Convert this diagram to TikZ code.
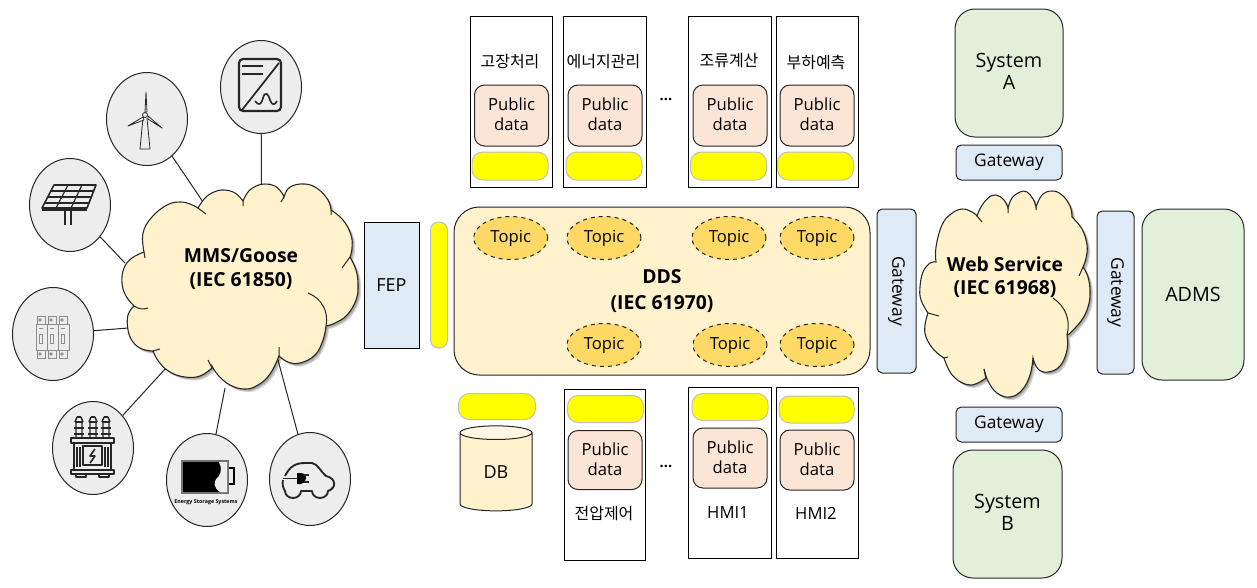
\documentclass[tikz,border=0pt]{standalone}
\usepackage{fontspec}
\setmainfont{Open Sans}
\newfontfamily\korean{Noto Sans CJK KR}
\usetikzlibrary{shapes.geometric}

\definecolor{cloudfill}{HTML}{FFF2CC}
\definecolor{dbtopfill}{HTML}{FFF7E3}
\definecolor{topicfill}{HTML}{FFD966}
\definecolor{pubfill}{HTML}{FBE5D6}
\definecolor{gatefill}{HTML}{DEEBF7}
\definecolor{sysfill}{HTML}{E2F0D9}
\definecolor{devfill}{HTML}{EDEDED}
\definecolor{edgecol}{HTML}{262626}
\definecolor{tabyellow}{RGB}{255,255,0}

\tikzset{
    boxsize/.style 2 args={minimum width=#1*0.75pt, minimum height=#2*0.75pt, inner sep=0pt},
    device/.style={ellipse, draw=edgecol, fill=devfill, line width=0.75pt, inner sep=0pt, minimum width=60.75pt, minimum height=69.75pt},
    appbox/.style={draw=black, fill=white, line width=0.6pt},
    pubbox/.style={draw=edgecol, fill=pubfill, line width=0.75pt, rounded corners=7.5pt, align=center, font=\fontsize{12.5}{15}\selectfont},
    yelbox/.style={draw=black!25, fill=tabyellow, line width=0.75pt, rounded corners=8pt},
    topic/.style={ellipse, draw=edgecol, dashed, fill=topicfill, line width=0.75pt, font=\fontsize{12.5}{15}\selectfont},
    gate/.style={draw=edgecol, fill=gatefill, line width=0.75pt, rounded corners=4pt, font=\fontsize{13}{15}\selectfont},
    sysbox/.style={draw=edgecol, fill=sysfill, line width=0.75pt, rounded corners=15pt, align=center, font=\fontsize{14.8}{16.5}\selectfont},
    label/.style={font=\korean\fontsize{12}{14}\selectfont},
    cloudlabel/.style={align=center, font=\bfseries\fontsize{14.5}{17.5}\selectfont},
    link/.style={draw=edgecol, line width=0.75pt},
    icon/.style={draw=black!85, line width=1pt, line join=round},
    lobe/.style={smooth, tension=0.7},
}

\newcommand{\dropstrut}[1]{\rule[-#1]{0pt}{#1}}
\newcommand{\mmscloud}{plot[lobe] coordinates {(144,252) (143,233) (152,217) (167,205) (180,202) (190,204) (198,208)}
    -- plot[lobe] coordinates {(198,208) (205,198) (214,192) (224,190) (235,193) (243,201)}
    -- plot[lobe] coordinates {(243,201) (248,192) (256,186) (265,184) (275,186) (282,193) (284,197)}
    -- plot[lobe] coordinates {(284,197) (290,187) (305,184) (318,189) (328,200) (331,210)}
    -- plot[lobe] coordinates {(331,210) (343,220) (351,235) (352,248) (350,257)}
    -- plot[lobe] coordinates {(350,257) (356,270) (358,285) (356,300) (347,315) (335,323) (326,326)}
    -- plot[lobe] coordinates {(326,326) (323,340) (315,355) (300,363) (288,362) (279,356)}
    -- plot[lobe] coordinates {(279,356) (270,374) (258,385) (245,389) (230,385) (218,375) (212,366)}
    -- plot[lobe] coordinates {(212,368) (200,376) (185,377) (170,372) (159,362) (153,351)}
    -- plot[lobe] coordinates {(153,351) (142,349) (133,342) (128,330) (128,315) (134,306)}
    -- plot[lobe] coordinates {(134,306) (126,296) (122,283) (124,268) (132,258) (144,252)} -- cycle}
\newcommand{\webcloud}{plot[lobe] coordinates {(936,262) (936,247) (942,225) (951,214) (962,209) (972,212) (977,216)}
    -- plot[lobe] coordinates {(977,216) (981,207) (988,198) (996,195) (1004,200) (1008,208)}
    -- plot[lobe] coordinates {(1008,208) (1012,198) (1020,192) (1027,192) (1033,199) (1036,207)}
    -- plot[lobe] coordinates {(1036,207) (1042,195) (1052,191) (1062,195) (1070,206) (1072,217)}
    -- plot[lobe] coordinates {(1072,217) (1082,229) (1087,245) (1086,258) (1083,267)}
    -- plot[lobe] coordinates {(1083,267) (1088,277) (1090,292) (1088,307) (1081,321) (1069,334)}
    -- plot[lobe] coordinates {(1067,335) (1067,350) (1060,366) (1048,372) (1038,369) (1033,358)}
    -- plot[lobe] coordinates {(1033,358) (1030,375) (1022,390) (1010,397) (997,393) (988,381) (984,369)}
    -- plot[lobe] coordinates {(986,378) (970,385) (953,376) (944,358)}
    -- plot[lobe] coordinates {(944,358) (934,350) (926,337) (925,325) (928,313)}
    -- plot[lobe] coordinates {(928,313) (921,300) (920,287) (923,272) (930,263) (936,262)} -- cycle}

\begin{document}
\begin{tikzpicture}[x=0.75pt, y=-0.75pt]
    \useasboundingbox (0,0) rectangle (1257,587);

    % devices around the left cloud
    \node[device] (inverter) at (261,87) {};
    \node[device] (wind) at (147,119) {};
    \node[device] (solar) at (70,205) {};
    \node[device] (breaker) at (53,334) {};
    \node[device] (transformer) at (93,448) {};
    \node[device] (ess) at (207,480) {};
    \node[device] (ev) at (310,479) {};

    \coordinate (inverterend) at (261.5,186);
    \coordinate (windend) at (203,202);
    \coordinate (solarend) at (125,263);
    \coordinate (breakerend) at (128,328);
    \coordinate (transformerend) at (166,368);
    \coordinate (essend) at (225,388);
    \coordinate (evend) at (278,360);

    \draw[link] (inverter) -- (inverterend);
    \draw[link] (wind) -- (windend);
    \draw[link] (solar) -- (solarend);
    \draw[link] (breaker) -- (breakerend);
    \draw[link] (transformer) -- (transformerend);
    \draw[link] (ess) -- (essend);
    \draw[link] (ev) -- (evend);

    % inverter icon
    \draw[icon, line width=1.6pt, rounded corners=3pt] (239,59) rectangle (281,111);
    \draw[icon, line width=1.3pt] (279,63) -- (242,110);
    \draw[icon, line width=1.8pt] (242,66) -- (263,66) (242,74) -- (263,74);
    \draw[icon, line width=1.2pt] (255,101) .. controls (259,106) and (261,105) .. (263,98)
        .. controls (265,91) and (268,93) .. (270,100) .. controls (272,106) and (275,105) .. (277,101);

    % wind turbine icon
    \draw[icon, line width=0.6pt] (143,118) -- (140,149) -- (150,149) -- (147,118);
    \draw[icon, line width=0.6pt, fill=white] (145,112) -- (146,92) -- (147,112) -- cycle;
    \draw[icon, line width=0.6pt, fill=white] (143,117) -- (128,126) -- (144,120) -- cycle;
    \draw[icon, line width=0.6pt, fill=white] (148,116) -- (162,128) -- (148,119) -- cycle;
    \draw[icon, line width=0.6pt, fill=devfill] (145,115) circle (2.5);

    % solar panel icon
    \draw[icon, line width=1.2pt, fill=devfill] (54,185) -- (96,185) -- (87,208) -- (42,208) -- cycle;
    \draw[icon, line width=0.9pt] (50.5,191) -- (94,191) (46.5,197) -- (92,197) (44,203) -- (89,203);
    \draw[icon, line width=0.9pt] (68,185) -- (56,208) (82,185) -- (71,208);
    \draw[icon, line width=1.8pt] (42,210) -- (87,210);
    \draw[icon, line width=0.9pt] (65,211) -- (65,225) (71,211) -- (71,225);

    % breaker icon
    \foreach \x in {36,47,58} {
        \draw[black!45, line width=0.6pt] (\x,324) rectangle ++(11,26);
        \draw[black!45, line width=0.6pt] (\x+1,316) rectangle ++(8,8);
        \draw[black!45, line width=0.6pt] (\x+1,350) rectangle ++(8,8);
        \draw[black!45, line width=0.6pt] (\x+4,320) circle (1.2) (\x+4,354) circle (1.2);
        \draw[black!45, line width=0.6pt] (\x+3,334) rectangle ++(3,9);
        \draw[black!45, line width=0.6pt] (\x+3,328) -- ++(4,0);
    }

    % transformer icon
    \foreach \x in {79,93,106} {
        \draw[icon, line width=1.1pt] (\x-2,417) -- (\x+2,417) (\x-4,422) -- (\x+4,422) (\x-5,428) -- (\x+5,428) (\x-5,434) -- (\x+5,434);
        \draw[icon, line width=1.1pt] (\x-2,417) -- (\x-4,422) (\x+2,417) -- (\x+4,422) (\x-3,422) -- (\x-3,437) (\x+3,422) -- (\x+3,437);
    }
    \draw[icon, line width=1.2pt] (71,438) rectangle (114,443);
    \draw[icon, line width=1.2pt] (74,443) rectangle (111,470);
    \draw[icon, line width=1.2pt] (71,470) rectangle (114,474);
    \draw[icon, line width=1.2pt] (83,446) rectangle (102,465);
    \draw[icon, line width=0.9pt] (77,447) -- (77,467) (80,447) -- (80,467) (105,447) -- (105,467) (108,447) -- (108,467);
    \draw[icon, line width=1.2pt] (95,449) -- (90,456) -- (95,456) -- (90,463);
    \draw[icon, line width=1.2pt] (76,474) -- (76,477) -- (86,477) -- (86,474) (99,474) -- (99,477) -- (109,477) -- (109,474);

    % storage icon
    \draw[draw=black!55, fill=black, line width=1pt] (182,461) rectangle (228,493);
    \fill[devfill] (219,462) .. controls (222,468) and (221,472) .. (219,476)
        .. controls (212,482) and (214,488) .. (220,492) -- (227,492) -- (227,462) -- cycle;
    \draw[black, line width=0.8pt] (229,468) -- (234,468) -- (234,484) -- (229,484);
    \node[inner sep=0pt, font=\bfseries\fontsize{4}{5}\selectfont] (esstext) at (206,502) {Energy Storage Systems};

    % car icon
    \draw[icon, line width=1.4pt] (285,476) .. controls (290,466) and (296,463) .. (305,463) -- (312,463)
        .. controls (318,464) and (321,472) .. (326,476) .. controls (336,478) and (337,488) .. (328,491)
        arc (0:180:8 and 7) -- (301,491) arc (0:180:8 and 7) .. controls (283,488) and (282,484) .. (283,480);
    \fill[black] (297,473) -- (301,473) .. controls (305,473) and (306,477) .. (306,478) .. controls (306,481) and (304,484) .. (301,484) -- (297,484) -- cycle;
    \draw[icon, line width=1.4pt] (283,478.5) -- (297,478.5) (304,475) -- (309,475) (304,482) -- (309,482);

    % left cloud
    \foreach \s in {1,2,3} {
        \fill[black, opacity=0.16, shift={(\s,\s)}] \mmscloud;
    }
    \draw[fill=cloudfill, draw=edgecol, line width=0.8pt] \mmscloud;
    \draw[link] (198,208) -- (206,214) (243,201) -- (243,206) (284,197) -- (281,202) (331,210) -- (331,215);
    \draw[link] (350,257) -- (342,268) (279,347) -- (279,356) (208,360) -- (212,368) (153,351) -- (160,349);
    \draw[link] (308,293) to[bend left=40] (326,326);
    \draw[link] (134,306) to[bend right=25] (148,308);
    \draw[link] (144,252) -- (145,258);
    \node[cloudlabel] (mmslabel) at (241,269) {MMS/Goose\\(IEC 61850)};

    % front end
    \node[draw=black, fill=gatefill, line width=0.6pt, boxsize={55}{126}, font=\fontsize{13.5}{15}\selectfont] (fep) at (391.5,285) {FEP};
    \node[yelbox, rounded corners=6pt, boxsize={17}{126}] (feptab) at (439,285) {};

    % DDS bus
    \node[draw=edgecol, fill=cloudfill, line width=0.75pt, rounded corners=19pt, boxsize={416}{168}, align=center, font=\bfseries\fontsize{14.5}{18}\selectfont] (dds) at (662,291) {DDS\\[2pt](IEC 61970)};
    \foreach \name/\x/\y in {a/510.7/238, b/604/238, c/729/238, d/817/238, e/604/345, f/730/345, g/817/345} {
        \node[topic, boxsize={74}{43}] (topic\name) at (\x,\y) {Topic};
    }

    % application boxes on top
    \node[appbox, boxsize={82}{171}] (faultbox) at (511,101.5) {};
    \node[appbox, boxsize={83}{171}] (energybox) at (604.5,101.5) {};
    \node[appbox, boxsize={83}{171}] (flowbox) at (729.5,101.5) {};
    \node[appbox, boxsize={82}{171}] (loadbox) at (817,101.5) {};
    \node[label] (faultlabel) at (510,62) {고장처리};
    \node[label] (energylabel) at (603.5,62) {에너지관리};
    \node[label] (flowlabel) at (729,61) {조류계산};
    \node[label] (loadlabel) at (816,62) {부하예측};
    \foreach \name/\x in {a/511.5, b/605, c/730, d/817} {
        \node[pubbox, boxsize={74}{61}] (pubtop\name) at (\x,115.5) {Public\\data\dropstrut{1.5pt}};
    }
    \foreach \name/\x in {a/510, b/604, c/728.5, d/815.5} {
        \node[yelbox, boxsize={76}{28}] (yeltop\name) at (\x,166) {};
    }
    \node[font=\bfseries\fontsize{11}{13}\selectfont] (dotstop) at (666,99) {...};

    % application boxes below
    \node[appbox, boxsize={81}{171}] (voltbox) at (604.5,474.5) {};
    \node[appbox, boxsize={83}{171}] (hmionebox) at (729.5,472.5) {};
    \node[appbox, boxsize={82}{171}] (hmitwobox) at (817,472.5) {};
    \node[yelbox, boxsize={77}{26}] (yeldb) at (497,406.5) {};
    \node[yelbox, boxsize={76}{27}] (yelvolt) at (605.5,409) {};
    \node[yelbox, boxsize={76}{27}] (yelhmione) at (730,407) {};
    \node[yelbox, boxsize={75}{27}] (yelhmitwo) at (816.5,409.5) {};
    \node[pubbox, boxsize={74}{59}] (pubvolt) at (605,460) {Public\\data\dropstrut{1.5pt}};
    \node[pubbox, boxsize={74}{60}] (pubhmione) at (730,458) {Public\\data\dropstrut{1.5pt}};
    \node[pubbox, boxsize={74}{60}] (pubhmitwo) at (817,460) {Public\\data\dropstrut{1.5pt}};
    \node[cylinder, shape border rotate=90, shape aspect=0.55, cylinder uses custom fill, cylinder body fill=cloudfill, cylinder end fill=dbtopfill, draw=edgecol, line width=0.75pt, boxsize={72}{85}, font=\fontsize{13.5}{15}\selectfont] (db) at (496,472) {\raisebox{-2.2pt}{DB}};
    \node[label] (voltlabel) at (604,514) {전압제어};
    \node[font=\fontsize{12.5}{15}\selectfont] (hmione) at (728,513) {HMI1};
    \node[font=\fontsize{12.5}{15}\selectfont] (hmitwo) at (816,513) {HMI2};
    \node[font=\bfseries\fontsize{11}{13}\selectfont] (dotsbottom) at (666,466) {...};

    % right side
    \node[gate, rotate=-90, boxsize={164}{39}] (gateleft) at (896.5,291) {Gateway};
    \node[gate, rotate=-90, boxsize={163}{37}] (gateright) at (1115.5,292.5) {Gateway};
    \node[gate, boxsize={106}{35}] (gatetop) at (1009,162.5) {Gateway};
    \node[gate, boxsize={106}{35}] (gatebottom) at (1009,424.5) {Gateway};
    \node[sysbox, boxsize={108}{128}] (systema) at (1009,73) {System\\A\dropstrut{3pt}};
    \node[sysbox, boxsize={109}{128}] (systemb) at (1007.5,514) {System\\B\dropstrut{3pt}};
    \node[sysbox, boxsize={102}{171}] (adms) at (1193,294.5) {ADMS};

    % right cloud
    \foreach \s in {1,2,3} {
        \fill[black, opacity=0.16, shift={(\s,\s)}] \webcloud;
    }
    \draw[fill=cloudfill, draw=edgecol, line width=0.8pt] \webcloud;
    \draw[link] (982,222) -- (977,216) (1008,213) -- (1008,208) (1036,210) -- (1036,207);
    \draw[link] (1083,267) -- (1079,276) (1033,358) -- (1033,365) (984,369) -- (986,378) (944,358) -- (948,357);
    \draw[link] (1053,298) to[bend left=35] (1067,335);
    \draw[link] (928,313) -- (939,316);
    \node[cloudlabel] (weblabel) at (1005,277) {Web Service\\(IEC 61968)};
\end{tikzpicture}
\end{document}
